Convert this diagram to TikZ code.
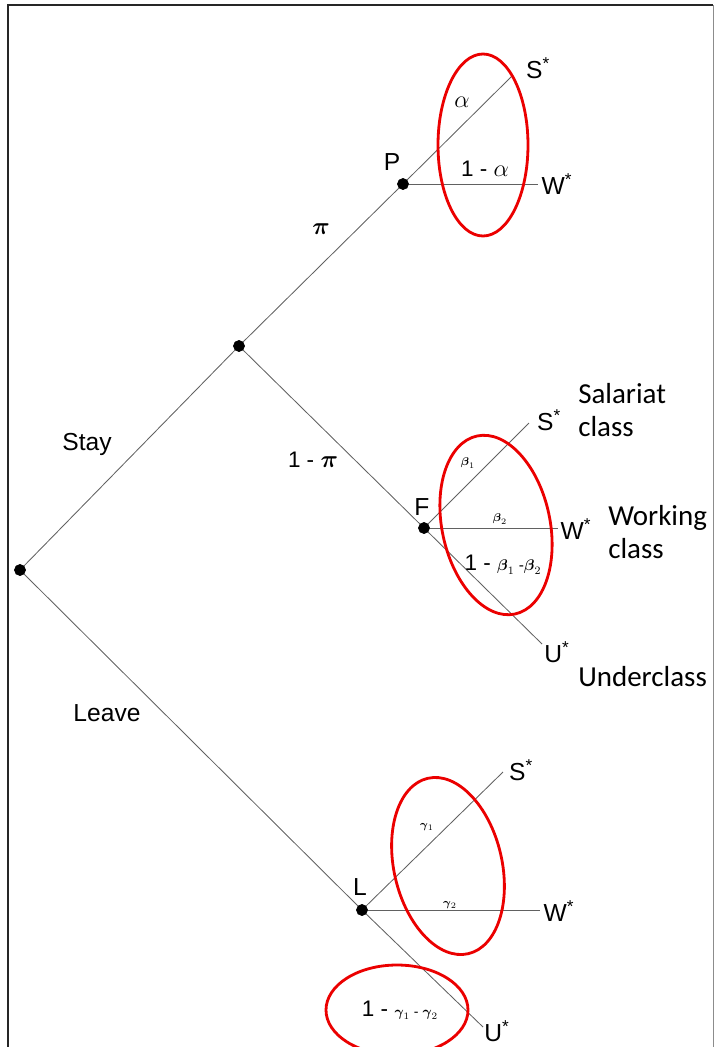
\documentclass[tikz,border=0pt]{standalone}
\usepackage{amsmath}
\usepackage{fontspec}
\setmainfont{Liberation Sans}
\newfontfamily\notefont{Carlito}
\usetikzlibrary{positioning}
\tikzset{
  node-dot/.style={draw,fill=black,circle,minimum size=2.8mm,inner sep=0pt},
  node-lbl/.style={inner sep=1pt,font=\fontsize{17.5}{20}\selectfont},
  prob/.style={inner sep=1pt,font=\fontsize{16}{18}\selectfont},
  prob-s/.style={inner sep=1pt,font=\fontsize{8.5}{10}\selectfont},
  branch/.style={draw,black!62,line width=0.6pt},
  ring/.style={draw,red!92!black,line width=2pt},
  note/.style={anchor=west,align=left,inner sep=0pt,font=\notefont\fontsize{20.6}{23.5}\selectfont},
  frameline/.style={draw,black!85,line width=1.3pt},
}

\begin{document}
\begin{tikzpicture}[x=0.025cm,y=-0.025cm]

  \clip (0,0) rectangle (714,1047);

  % FRAME
  \draw[frameline] (8,1047) -- (8,5) -- (713,5);
  \draw[frameline,black!45,line width=0.6pt] (713,5) -- (713,1047);

  % TREE
  \node[node-dot] (r) at (20,570)  {};
  \node[node-dot] (m) at (239,346) {};
  \node[node-dot] (p) at (403,184) {};
  \node[node-dot] (f) at (424,528) {};
  \node[node-dot] (l) at (362,910) {};
  \coordinate (pS) at (512,76);
  \coordinate (pW) at (538,184);
  \coordinate (fS) at (529,423);
  \coordinate (fW) at (558,528);
  \coordinate (fU) at (542,644);
  \coordinate (lS) at (503,772);
  \coordinate (lW) at (540,910);
  \coordinate (lU) at (483,1027);
  \draw[branch] (r) -- (m);
  \draw[branch] (m) -- (p);
  \draw[branch] (m) -- (f);
  \draw[branch] (f) -- (fU);
  \draw[branch] (r) -- (l);
  \draw[branch] (l) -- (lU);
  \draw[branch] (p) -- (pS);
  \draw[branch] (p) -- (pW);
  \draw[branch] (f) -- (fS);
  \draw[branch] (f) -- (fW);
  \draw[branch] (l) -- (lS);
  \draw[branch] (l) -- (lW);

  % NODE AND OUTCOME LABELS
  \node[node-lbl] (pLbl)  at (392,162)  {P};
  \node[node-lbl] (fLbl)  at (422,507)  {F};
  \node[node-lbl] (lLbl)  at (360,887)  {L};
  \node[node-lbl] (pSLbl) at (538,68)   {S\textsuperscript{*}};
  \node[node-lbl] (pWLbl) at (557,184)  {W\textsuperscript{*}};
  \node[node-lbl] (fSLbl) at (549,420)  {S\textsuperscript{*}};
  \node[node-lbl] (fWLbl) at (576,529)  {W\textsuperscript{*}};
  \node[node-lbl] (fULbl) at (557,652)  {U\textsuperscript{*}};
  \node[node-lbl] (lSLbl) at (521,770)  {S\textsuperscript{*}};
  \node[node-lbl] (lWLbl) at (559,911)  {W\textsuperscript{*}};
  \node[node-lbl] (lULbl) at (497,1031) {U\textsuperscript{*}};
  \node[node-lbl] (stay)  at (87,444)   {Stay};
  \node[node-lbl] (leave) at (107,713)  {Leave};

  % PROBABILITIES
  \node[prob,font=\fontsize{19}{20}\selectfont] (alpha) at (462,102) {$\alpha$};
  \node[prob]   (alphaC) at (485,169)  {1 - $\alpha$};
  \node[prob]   (pi)     at (321,229)  {$\boldsymbol{\pi}$};
  \node[prob]   (piC)    at (313,460)  {1 - $\boldsymbol{\pi}$};
  \node[prob-s] (beta1)  at (468,463)  {$\boldsymbol{\beta}_{1}$};
  \node[prob-s] (beta2)  at (500,519)  {$\boldsymbol{\beta}_{2}$};
  \node[prob]   (betaC)  at (503,565)  {1 - {\fontsize{11}{12}\selectfont$\boldsymbol{\beta}_{1}$ -$\boldsymbol{\beta}_{2}$}};
  \node[prob-s] (gam1)   at (427,827)  {$\boldsymbol{\gamma}_{1}$};
  \node[prob-s] (gam2)   at (450,905)  {$\boldsymbol{\gamma}_{2}$};
  \node[prob]   (gamC)   at (400,1010) {1 - {\fontsize{10}{12}\selectfont$\boldsymbol{\gamma}_{1}$ - $\boldsymbol{\gamma}_{2}$}};

  % RED RINGS
  \draw[ring] (483,145)  ellipse [x radius=45, y radius=91];
  \draw[ring] (496,525)  ellipse [x radius=54, y radius=91, rotate=12];
  \draw[ring] (448,866)  ellipse [x radius=54, y radius=90, rotate=13];
  \draw[ring] (397,1010) ellipse [x radius=71, y radius=45];

  % CLASS NOTES
  \node[note] (salariat) at (578,410) {Salariat\\class};
  \node[note] (working)  at (608,532) {Working\\class};
  \node[note] (under)    at (578,677) {Underclass};

\end{tikzpicture}
\end{document}
